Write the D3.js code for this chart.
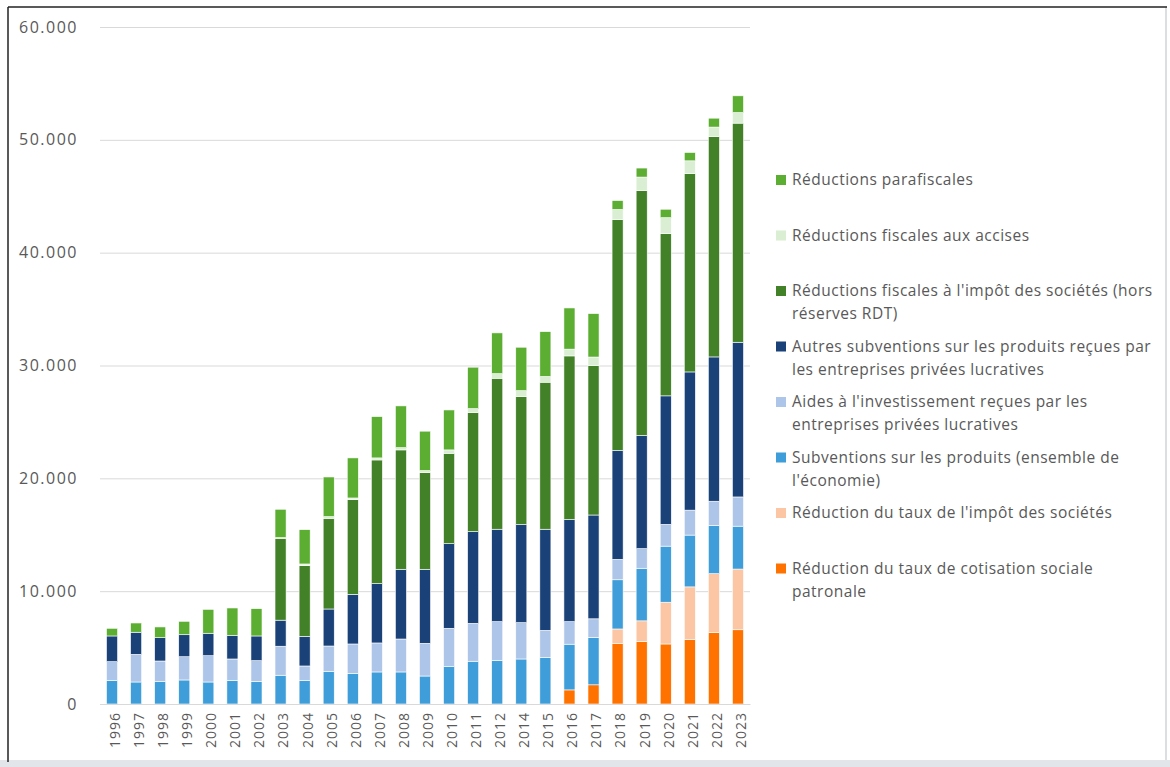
<!DOCTYPE html>
<html>
<head>
<meta charset="utf-8">
<script src="https://cdn.jsdelivr.net/npm/d3@7"></script>
<style>
  html, body { margin: 0; padding: 0; background: #fff; }
  svg { display: block; }
</style>
</head>
<body>
<div id="chart"></div>
<script>
const years = ['1996','1997','1998','1999','2000','2001','2002','2003','2004','2005','2006','2007','2008','2009','2010','2011','2012','2014','2015','2016','2017','2018','2019','2020','2021','2022','2023'];

// series, bottom of the stack first
const cotisation   = [0,0,0,0,0,0,0,0,0,0,0,0,0,0,0,0,0,0,0,1250,1700,5380,5540,5320,5700,6330,6580];
const tauxIsoc     = [0,0,0,0,0,0,0,0,0,0,0,0,0,0,0,0,0,0,0,0,0,1270,1830,3700,4680,5220,5380];
const subventions  = [2100,1950,1980,2130,1950,2100,2010,2550,2070,2900,2720,2840,2840,2480,3310,3790,3840,3990,4140,4050,4200,4360,4660,4970,4590,4270,3800];
const aides        = [1650,2450,1830,2060,2330,1890,1830,2570,1300,2240,2600,2570,2920,2900,3400,3360,3460,3220,2390,2000,1650,1810,1740,1930,2210,2150,2590];
const autres       = [2280,1960,2070,1950,1990,2100,2190,2310,2630,3280,4400,5260,6180,6560,7500,8130,8190,8690,8960,9050,9200,9650,10030,11390,12250,12790,13710];
const fiscIsoc     = [0,0,0,0,0,0,0,7260,6260,8040,8390,10960,10580,8570,8010,10540,13380,11340,13030,14500,13250,20470,21700,14370,17570,19530,19420];
const accises      = [0,0,0,0,0,0,0,60,150,150,150,180,200,180,300,360,410,530,510,600,750,890,1200,1420,1140,840,940];
const parafiscales = [680,820,950,1190,2120,2420,2420,2510,3040,3510,3550,3660,3700,3490,3540,3670,3610,3850,3970,3650,3850,790,800,750,740,790,1480];

const seriesKeys = ['cotisation','tauxIsoc','subventions','aides','autres','fiscIsoc','accises','parafiscales'];
const seriesValues = { cotisation, tauxIsoc, subventions, aides, autres, fiscIsoc, accises, parafiscales };
const seriesColors = {
  cotisation: '#ff7200',
  tauxIsoc: '#fcc6a4',
  subventions: '#3f9ed9',
  aides: '#adc5e9',
  autres: '#1a4279',
  fiscIsoc: '#428128',
  accises: '#d9eed2',
  parafiscales: '#5cae32'
};
// legend, top to bottom (each entry = wrapped lines)
const legendKeys = ['parafiscales','accises','fiscIsoc','autres','aides','subventions','tauxIsoc','cotisation'];
const legendLabels = [
  ['Réductions parafiscales'],
  ['Réductions fiscales aux accises'],
  ["Réductions fiscales à l'impôt des sociétés (hors", 'réserves RDT)'],
  ['Autres subventions sur les produits reçues par', 'les entreprises privées lucratives'],
  ["Aides à l'investissement reçues par les", 'entreprises privées lucratives'],
  ['Subventions sur les produits (ensemble de', "l'économie)"],
  ["Réduction du taux de l'impôt des sociétés"],
  ['Réduction du taux de cotisation sociale', 'patronale']
];
const yTicks = [0, 10000, 20000, 30000, 40000, 50000, 60000];

const width = 1170, height = 767;
const svg = d3.select('#chart').append('svg')
  .attr('width', width)
  .attr('height', height);

// frame of the screenshot
svg.append('rect')
  .attr('x', 0).attr('y', 760).attr('width', width).attr('height', 7)
  .attr('fill', '#e2e6eb');
svg.append('line')
  .attr('x1', 1166).attr('x2', 1166).attr('y1', 7).attr('y2', 760)
  .attr('stroke', '#d0d4d9').attr('stroke-width', 1.5);
svg.append('line')
  .attr('x1', 8).attr('x2', 1167).attr('y1', 7).attr('y2', 7)
  .attr('stroke', '#222').attr('stroke-width', 1.5);
svg.append('line')
  .attr('x1', 8).attr('x2', 8).attr('y1', 7).attr('y2', 762)
  .attr('stroke', '#222').attr('stroke-width', 1.5);

const rows = years.map((y, i) => {
  const row = { year: y };
  seriesKeys.forEach(k => row[k] = seriesValues[k][i]);
  return row;
});

const x = d3.scaleBand()
  .domain(years)
  .range([100, 750])
  .paddingInner(0.54)
  .paddingOuter(0.27);

const y = d3.scaleLinear()
  .domain([0, 60000])
  .range([704, 27]);

const fmt = d3.formatLocale({ decimal: ',', thousands: '.', grouping: [3], currency: ['', ''] }).format(',');

// grid + y labels
const yAxis = svg.append('g')
  .attr('transform', 'translate(100,0)')
  .call(d3.axisLeft(y).tickValues(yTicks).tickSize(-650).tickPadding(22).tickFormat(fmt));
yAxis.select('.domain').remove();
yAxis.selectAll('.tick line').attr('stroke', '#d9d9d9').attr('stroke-width', 1);
yAxis.selectAll('.tick text')
  .attr('fill', '#595959')
  .attr('font-family', "'Open Sans', sans-serif")
  .attr('font-size', 16)
  .attr('letter-spacing', '1.5px');

const stack = d3.stack().keys(seriesKeys);
const stacked = stack(rows);

svg.append('g').selectAll('g')
  .data(stacked)
  .join('g')
    .attr('fill', d => seriesColors[d.key])
  .selectAll('rect')
  .data(d => d.filter(s => s[1] - s[0] > 0))
  .join('rect')
    .attr('x', d => x(d.data.year))
    .attr('width', x.bandwidth())
    .attr('y', d => y(d[1]))
    .attr('height', d => y(d[0]) - y(d[1]))
    .attr('stroke', '#fff')
    .attr('stroke-width', 0.6);

// x labels
const xAxis = svg.append('g')
  .attr('transform', 'translate(0,704)')
  .call(d3.axisBottom(x).tickSize(0));
xAxis.select('.domain').attr('stroke', '#d9d9d9');
xAxis.selectAll('.tick text')
  .attr('fill', '#595959')
  .attr('font-family', "'Open Sans', sans-serif")
  .attr('font-size', 14)
  .attr('letter-spacing', '1px')
  .attr('text-anchor', 'end')
  .attr('dy', '0.35em')
  .attr('transform', 'translate(0,8) rotate(-90)');

// legend
const legend = svg.append('g').attr('transform', 'translate(776,0)');
const item = legend.selectAll('g')
  .data(legendKeys)
  .join('g')
    .attr('transform', (d, i) => `translate(0,${180 + i * 55.5})`);
item.append('rect')
  .attr('x', 0).attr('y', -5)
  .attr('width', 10).attr('height', 10)
  .attr('fill', d => seriesColors[d]);
item.append('text')
  .attr('x', 16)
  .attr('y', 0)
  .attr('fill', '#595959')
  .attr('font-family', "'Open Sans', sans-serif")
  .attr('font-size', 15.5)
  .attr('letter-spacing', '0.5px')
  .selectAll('tspan')
  .data((d, i) => legendLabels[i])
  .join('tspan')
    .attr('x', 16)
    .attr('dy', (d, j) => j === 0 ? '0.35em' : 23)
    .text(d => d);
</script>
</body>
</html>
